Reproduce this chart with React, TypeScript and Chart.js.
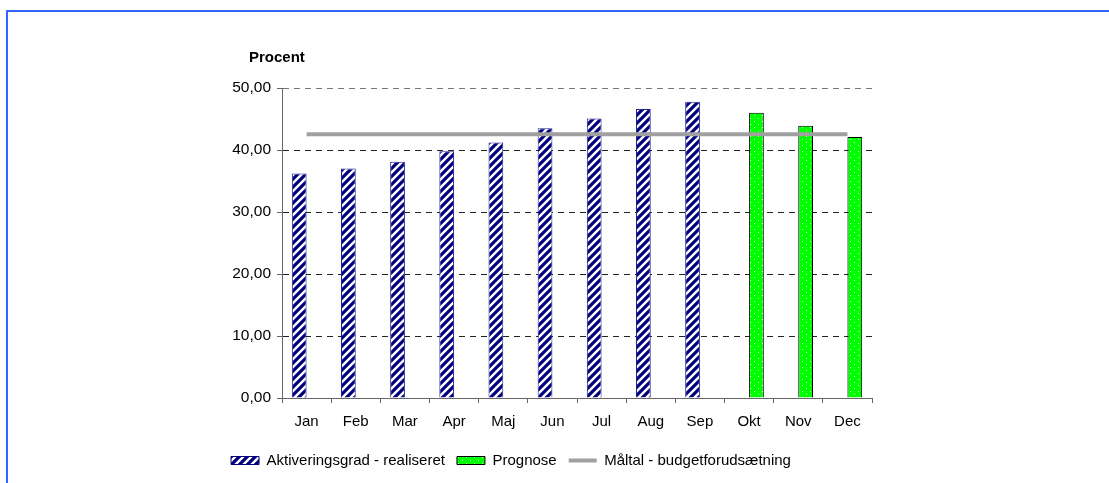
import React, { useEffect, useRef } from "react";
import { Chart, registerables } from "chart.js";

Chart.register(...registerables);

const CATEGORIES = ["Jan", "Feb", "Mar", "Apr", "Maj", "Jun", "Jul", "Aug", "Sep", "Okt", "Nov", "Dec"];
const REALISERET = [36.2, 37.0, 38.1, 39.8, 41.2, 43.5, 45.1, 46.6, 47.8, null, null, null];
const PROGNOSE = [null, null, null, null, null, null, null, null, null, 46.0, 43.9, 42.1];
const MAALTAL = [42.55, 42.55, 42.55, 42.55, 42.55, 42.55, 42.55, 42.55, 42.55, 42.55, 42.55, 42.55];
const SERIES_NAMES = ["Aktiveringsgrad - realiseret", "Prognose", "Måltal - budgetforudsætning"];
const Y_TITLE = "Procent";
const Y_MIN = 0;
const Y_MAX = 50;
const Y_STEP = 10;

const FONT = 'Arial, "Liberation Sans", sans-serif';

function makeHatch(): CanvasPattern | string {
  const c = document.createElement("canvas");
  c.width = 8;
  c.height = 8;
  const g = c.getContext("2d");
  if (!g) return "#000080";
  g.fillStyle = "#ffffff";
  g.fillRect(0, 0, 8, 8);
  g.strokeStyle = "#000080";
  g.lineWidth = 3.2;
  g.beginPath();
  g.moveTo(-2, 10);
  g.lineTo(10, -2);
  g.moveTo(-6, 6);
  g.lineTo(6, -6);
  g.moveTo(2, 14);
  g.lineTo(14, 2);
  g.stroke();
  return g.createPattern(c, "repeat") || "#000080";
}

function makeDots(): CanvasPattern | string {
  const c = document.createElement("canvas");
  c.width = 8;
  c.height = 6;
  const g = c.getContext("2d");
  if (!g) return "#00ff00";
  g.fillStyle = "#00ff00";
  g.fillRect(0, 0, 8, 6);
  g.fillStyle = "#d8ffd8";
  g.fillRect(2, 1, 1, 1);
  g.fillRect(6, 4, 1, 1);
  return g.createPattern(c, "repeat") || "#00ff00";
}

const axisTitlePlugin = {
  id: "axisTitleText",
  afterDraw(chart: any) {
    const { ctx, chartArea } = chart;
    ctx.save();
    ctx.font = `bold 15px ${FONT}`;
    ctx.fillStyle = "#000";
    ctx.textAlign = "left";
    ctx.textBaseline = "alphabetic";
    ctx.fillText(Y_TITLE, chartArea.left - 33, chartArea.top - 26);
    ctx.restore();
  },
};

export default function App() {
  const ref = useRef<HTMLCanvasElement | null>(null);

  useEffect(() => {
    if (!ref.current) return;
    const hatch = makeHatch();
    const dots = makeDots();
    const chart = new Chart(ref.current, {
      type: "bar",
      data: {
        labels: CATEGORIES,
        datasets: [
          {
            type: "line",
            label: SERIES_NAMES[2],
            data: MAALTAL,
            borderColor: "#a0a0a0",
            backgroundColor: "#a0a0a0",
            borderWidth: 4,
            pointRadius: 0,
            fill: false,
          } as any,
          {
            type: "bar",
            label: SERIES_NAMES[0],
            data: REALISERET,
            backgroundColor: hatch as any,
            borderColor: "#202090",
            borderWidth: 1,
            categoryPercentage: 0.6,
            barPercentage: 1,
          },
          {
            type: "bar",
            label: SERIES_NAMES[1],
            data: PROGNOSE,
            backgroundColor: dots as any,
            borderColor: "#000000",
            borderWidth: 1,
            categoryPercentage: 0.6,
            barPercentage: 1,
          },
        ],
      },
      options: {
        responsive: false,
        animation: false,
        layout: { padding: { left: 150, right: 237, top: 88, bottom: 5 } },
        plugins: {
          tooltip: { enabled: false },
          legend: {
            position: "bottom",
            labels: {
              usePointStyle: true,
              pointStyleWidth: 28,
              boxHeight: 8,
              padding: 12,
              color: "#000",
              font: { family: FONT, size: 15 },
              generateLabels: () => [
                { text: SERIES_NAMES[0], fillStyle: hatch as any, strokeStyle: "#000080", lineWidth: 1, pointStyle: "rect", datasetIndex: 1, hidden: false, fontColor: "#000" },
                { text: SERIES_NAMES[1], fillStyle: dots as any, strokeStyle: "#000000", lineWidth: 1, pointStyle: "rect", datasetIndex: 2, hidden: false, fontColor: "#000" },
                { text: SERIES_NAMES[2], fillStyle: "#a0a0a0", strokeStyle: "#a0a0a0", lineWidth: 4, pointStyle: "line", datasetIndex: 0, hidden: false, fontColor: "#000" },
              ] as any,
            },
          },
        },
        scales: {
          x: {
            offset: true,
            afterFit: (s: any) => { s.height = 43; },
            grid: {
              display: true,
              offset: true,
              drawOnChartArea: false,
              drawTicks: true,
              tickLength: 5,
              tickColor: "#666",
            },
            border: { display: true, color: "#666", width: 1 },
            ticks: { color: "#000", font: { family: FONT, size: 15 }, padding: 10, maxRotation: 0 },
          },
          y: {
            min: Y_MIN,
            max: Y_MAX,
            afterFit: (s: any) => { s.width = 132; },
            grid: {
              color: (c: any) => (c.tick && c.tick.value === 0 ? "rgba(0,0,0,0)" : c.tick && c.tick.value === Y_MAX ? "#777" : "#222"),
              lineWidth: 1,
              drawTicks: true,
              tickLength: 5,
              tickColor: "#666",
              tickBorderDash: [],
            },
            border: { display: true, color: "#666", width: 1, dash: [6, 5] },
            ticks: {
              stepSize: Y_STEP,
              color: "#000",
              padding: 6,
              font: { family: FONT, size: 15.5 },
              callback: (v: any) => Number(v).toFixed(2).replace(".", ","),
            },
          },
        },
      },
      plugins: [axisTitlePlugin],
    });
    return () => chart.destroy();
  }, []);

  return (
    <>
      <div
        style={{
          position: "fixed",
          left: 6,
          top: 10,
          right: -20,
          bottom: -20,
          borderLeft: "2px solid #3366ff",
          borderTop: "2px solid #3366ff",
          pointerEvents: "none",
        }}
      />
      <canvas
        ref={ref}
        width={1109}
        height={483}
        style={{ position: "absolute", left: 0, top: 0, width: 1109, height: 483 }}
      />
    </>
  );
}
